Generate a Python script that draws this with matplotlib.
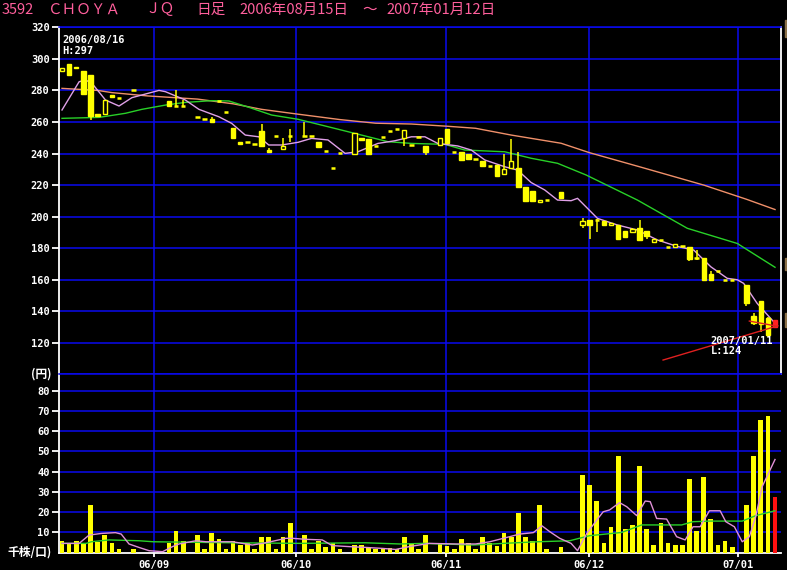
import numpy as np
import matplotlib
matplotlib.use("Agg")
import matplotlib.pyplot as plt
from matplotlib.patches import Rectangle

# ---------------- data ----------------
NA = None
opens = [292, 297, 295, 292, 290, 265, 265, 277, 275, NA,
         280, NA, NA, NA, NA, 273, 270, 270, NA, 263,
         262, 262, 273, 266, 256, 247, 247, 246, 254, 242,
         251, 243, 251, NA, 251, 251, 247, 241.5, 231, 240.5,
         NA, 240, 250, 249, 245, 250.5, 254, 255.5, 250, 245.5,
         250.5, 245, NA, 245.5, 255.5, 241, 241, 240, 236.3, 235,
         232, 232.5, 227, 231, 231, 219, 216, 209, 210.5, NA,
         215.5, NA, NA, 195, 198, 198, 197, 195, 195, 191,
         190.5, 193, 191, 183.7, 185, 181, 181, 181.4, 181, 174,
         173.5, 163.5, 165.5, 160, 160, NA, 156.5, 137, 146.5, 136,
         134.5]
highs = [294, 297, 295, 292, 290, 265, 274, 277, 275, NA,
         280, NA, NA, NA, NA, 273, 280, 274, NA, 263,
         262, 263, 273, 266, 256, 247, 247, 246, 259, 243.5,
         251, 250, 255.5, NA, 260, 251, 247, 241.5, 231, 240.5,
         NA, 253, 250, 249, 245, 250.5, 254, 255.5, 255, 245.5,
         250.5, 245, NA, 250, 255.5, 241, 241, 240, 236.3, 235,
         232, 232.5, 240, 249, 241, 219, 216, 210.5, 210.5, NA,
         215.5, NA, NA, 199, 198, 198.5, 197, 196, 195, 191,
         193, 198, 191, 185.6, 185, 181, 182.4, 181.4, 181, 179,
         173.5, 165.5, 165.5, 160, 160, NA, 156.5, 138.7, 146.5, 136.5,
         134.5]
lows = [292, 290, 294, 278, 261, 264, 264.5, 276, 275, NA,
        280, NA, NA, NA, NA, 270, 270, 270, NA, 263,
        262, 260, 273, 266, 250, 246, 247, 246, 244, 241,
        251, 243, 247, NA, 250.5, 251, 244, 241.5, 231, 240.5,
        NA, 240, 248.5, 239.5, 245, 250.5, 254, 255.5, 245, 245.5,
        250.5, 239, NA, 245.5, 246.5, 241, 236, 236.5, 236.3, 232,
        232, 225.5, 227, 231, 218.5, 210, 210, 209, 210.5, NA,
        212, NA, NA, 192.5, 186, 190.5, 195, 195, 186, 187,
        189.8, 185, 186, 183.7, 185, 181, 181, 181.4, 172, 172.5,
        160, 160, 165.5, 160, 160, NA, 143.5, 131, 127, 124,
        130]
closes = [294, 290, 294, 278, 264, 264, 274, 276, 275, NA,
          280, NA, NA, NA, NA, 270, 270, 270, NA, 263,
          262, 260, 273, 266, 250, 246, 247, 246, 245, 241,
          251, 245, 251, NA, 251, 251, 244, 241.5, 231, 240.5,
          NA, 253, 248.5, 239.5, 245, 250.5, 254, 255.5, 255, 245.5,
          250.5, 241, NA, 250, 246.5, 241, 236, 236.5, 236.3, 232,
          232, 225.5, 230, 235, 218.5, 210, 210, 210.5, 210.5, NA,
          212, NA, NA, 197, 194.5, 198, 195, 196, 186, 187,
          192, 185.5, 187.7, 185.6, 185, 181, 182.4, 181.4, 173, 174,
          160, 160, 165.5, 160, 160, NA, 145, 132.5, 131.7, 125,
          130]
volume = [5.8, 4.4, 5.6, 4.6, 23.5, 5.3, 8.7, 4.8, 1.8, 0,
          1.6, 0, 0, 0, 0, 4.6, 10.7, 5.8, 0, 8.7,
          1.8, 9.7, 6.6, 1.8, 5.6, 3.8, 4.8, 1.8, 7.7, 7.7,
          1.8, 7.7, 14.6, 0, 8.9, 1.8, 5.9, 3.0, 4.9, 1.8,
          0, 3.8, 3.8, 2.5, 1.8, 1.8, 2.1, 1.6, 7.7, 4.6,
          1.8, 8.7, 0, 4.6, 3.5, 1.8, 6.7, 4.8, 1.8, 7.7,
          4.8, 3.5, 9.7, 7.7, 19.6, 7.7, 5.8, 23.5, 1.8, 0,
          2.8, 0, 0, 38.3, 33.4, 25.5, 4.8, 12.7, 47.7, 11.5,
          13.7, 42.8, 11.7, 3.8, 14.6, 4.8, 3.8, 3.8, 36.3, 10.7,
          37.3, 16.6, 3.8, 5.8, 2.8, 0, 23.5, 47.7, 65.5, 67.4,
          27.5]

# moving-average curves, read as (day, value) vertices
ma_short_days = [0, 2.4, 3.3, 4.2, 6.1, 8, 9.8, 11.2, 13.6, 14.5, 17.3, 19.2, 22, 23.8,
                 25.7, 27.6, 29, 30.8, 33.1, 35, 37.3, 39.7, 41.5, 44.3, 46.7, 49, 50.9,
                 52.7, 55.5, 57.4, 59.3, 62.1, 63.9, 65.8, 67.7, 69.5, 71.4, 72.3, 75.1,
                 77.9, 80.7, 83.5, 86.3, 88.6, 91, 93.3, 94.7, 95.6, 97.5, 100]
ma_short_vals = [267.6, 285.5, 286.6, 284.5, 273.9, 270.1, 275.4, 277.1, 280, 279.2, 273.9,
                 268, 263.3, 259.1, 251.7, 250.6, 245.4, 245.4, 247.1, 249.6, 248.6, 240.1,
                 241.1, 246.4, 248.1, 250.6, 250.6, 246.4, 244.8, 242.2, 235.9, 231.6, 229.5,
                 221.6, 216.9, 210.5, 210.1, 211.6, 198.9, 194.7, 191.5, 185.2, 181.1, 178.8,
                 168.2, 160.9, 160, 157.7, 145, 132.4]
ma_mid_days = [0, 5.2, 8.9, 11.2, 14.5, 17.3, 21, 23.4, 26.2, 29.4, 33.1, 37.3, 42, 45.7,
               49, 53.7, 56.5, 62.1, 65.8, 69.5, 73.5, 80.7, 87.7, 94.7, 100]
ma_mid_vals = [262.3, 262.9, 265.5, 268, 270.7, 272.4, 273.5, 273.3, 269.3, 264.4, 261.7,
               257, 251.7, 247.5, 246.4, 245.8, 242.2, 241.1, 237, 233.8, 226.4, 210.5,
               192.6, 183, 167.9]
ma_long_days = [0, 5, 7, 12, 19, 24, 28, 33, 39, 44, 49, 54, 58, 63, 70, 74, 81, 90, 96, 100]
ma_long_vals = [281.3, 280, 278.6, 276.5, 274.5, 271.5, 268, 265, 261.5, 259.2, 258.7,
                257.3, 256, 251.7, 246.5, 240.5, 231.6, 220, 211, 204.5]

vol_ma_short_days = [0, 2.4, 3.8, 5.5, 7.5, 8.3, 9.4, 10.8, 12.2, 14.1, 15.5, 16.4, 18.8,
                     20.2, 23.9, 26.7, 28.6, 31.4, 32.3, 34.2, 36.5, 37.9, 40.3, 42.6, 45,
                     46.8, 48.7, 51.5, 55.2, 58, 60, 61.9, 64.2, 66.1, 67.3, 68.4, 69.8,
                     71.4, 72.3, 73.6, 75, 75.9, 76.8, 78.2, 79.2, 80.6, 81.8, 82.5, 83.4,
                     84.8, 86.2, 87.4, 88.5, 89.5, 90.8, 92.3, 93.1, 94.3, 95.4, 96.4,
                     97.3, 98.2, 100]
vol_ma_short_vals = [4.6, 4.6, 8.7, 9.5, 9.9, 9.2, 4.3, 2.6, 1.0, 0.5, 3.0, 4.3, 5.9,
                     5.4, 5.4, 3.8, 4.9, 7.1, 7.1, 6.6, 6.3, 3.5, 3.0, 2.6, 2.1,
                     1.6, 3.0, 4.6, 4.3, 4.3, 5.4, 7.1, 9.2, 9.9, 13.3, 10.4, 7.1,
                     4.6, 1.0, 9.5, 16.1, 20.2, 21.1, 24.7, 22.7, 18.3, 25.5, 25.2, 16.9,
                     16.6, 7.9, 6.3, 12.8, 12.8, 20.7, 20.7, 15.3, 12.8, 5.4, 7.9,
                     17.8, 32.6, 46.0]
vol_ma_long_days = [0, 3.4, 4.1, 6.6, 10.8, 12.8, 24, 33.4, 42.5, 47.4, 50.7, 55.2, 57.7,
                    61.9, 66.7, 71.2, 74, 78.5, 81.3, 86.9, 88.5, 90.8, 95.4, 97.3, 100]
vol_ma_long_vals = [4.6, 4.6, 5.4, 6.3, 5.9, 5.4, 4.9, 4.6, 4.9, 4.3, 4.6, 4.1, 3.8,
                    4.6, 5.4, 5.9, 8.4, 10.0, 13.7, 13.7, 15.3, 15.6, 15.6, 18.3, 20.7]

title_parts = ["3592", "ＣＨＯＹＡ", "ＪＱ", "日足", "2006年08月15日", "～", "2007年01月12日"]
month_days = [13, 33, 54, 74, 95]
month_labels = ["06/09", "06/10", "06/11", "06/12", "07/01"]
price_ticks = [120, 140, 160, 180, 200, 220, 240, 260, 280, 300, 320]
vol_ticks = [10, 20, 30, 40, 50, 60, 70, 80]

# ---------------- styling ----------------
BG = "black"
GRID = "#0a0af0"
YEL = "#ffff00"
PINK_T = "#ff5f9c"
W, H = 787, 570
MONO = "DejaVu Sans Mono"
JP = ["Noto Sans CJK JP", "DejaVu Sans"]

days = np.arange(len(closes))
o = np.array([np.nan if v is None else v for v in opens], float)
h = np.array([np.nan if v is None else v for v in highs], float)
l = np.array([np.nan if v is None else v for v in lows], float)
c = np.array([np.nan if v is None else v for v in closes], float)
vol = np.array(volume, float)

fig = plt.figure(figsize=(W / 100, H / 100), dpi=100, facecolor=BG)


def px_axes(x0, y0, x1, y1):
    return fig.add_axes([x0 / W, 1 - y1 / H, (x1 - x0) / W, (y1 - y0) / H], facecolor=BG)


ax_p = px_axes(59.3, 27.3, 781, 374.4)
ax_v = px_axes(59.3, 374.4, 781, 552.7)
xlim = (-0.38, 100.84)

for ax in (ax_p, ax_v):
    ax.set_xlim(*xlim)
    for d in month_days:
        ax.axvline(d - 0.15, color=GRID, lw=1.1, zorder=0)
    for s in ax.spines.values():
        s.set_color(GRID)
        s.set_linewidth(1.1)
    ax.spines["left"].set_color("white")
    ax.spines["left"].set_linewidth(1.3)
    ax.tick_params(axis="y", colors="white", length=5, width=1.3, pad=2,
                   labelsize=7.5)
    for lab in ax.get_yticklabels():
        lab.set_fontweight("bold")

# ----- price panel -----
ax_p.set_ylim(100, 320)
ax_p.set_yticks(price_ticks)
ax_p.set_yticklabels([str(t) for t in price_ticks], family=MONO, fontweight="bold",
                     color="white", fontsize=7.5)
for t in price_ticks:
    ax_p.axhline(t, color=GRID, lw=1.1, zorder=0)
ax_p.spines["right"].set_color("white")
ax_p.spines["right"].set_linewidth(1.3)
ax_p.set_xticks([])

ax_p.plot(ma_long_days, ma_long_vals, color="#f0906a", lw=1, zorder=2)
ax_p.plot(ma_mid_days, ma_mid_vals, color="#28d028", lw=1, zorder=2)
ax_p.plot(ma_short_days, ma_short_vals, color="#e0a0e8", lw=1, zorder=2)

bw = 0.62
up = c > o
flat = np.isclose(c, o)
last = len(c) - 1
for i in days:
    if np.isnan(c[i]):
        continue
    col = "#ff2020" if i == last else YEL
    ax_p.vlines(i, l[i], h[i], color=col, lw=1.1, zorder=3)
    if flat[i]:
        ax_p.hlines(o[i], i - bw / 2, i + bw / 2, color=col, lw=1.8, zorder=4)
    else:
        face = BG if up[i] else col
        ax_p.bar(i, abs(c[i] - o[i]), bottom=min(o[i], c[i]), width=bw,
                 facecolor=face, edgecolor=col, lw=1.0, zorder=4)

# high / low callouts
i_hi = int(np.nanargmax(h))
i_lo = int(np.nanargmin(l))
ax_p.text(0.0, 315, "2006/08/16\nH:%d" % h[i_hi], family=MONO, fontweight="bold",
          color="white", fontsize=7.5, va="top", ha="left", linespacing=1.05, zorder=6)
ax_p.plot([84.3, i_lo + 1.4], [109.1, 130.8], color="#e02020", lw=1, zorder=5)
ax_p.plot([96.4, i_lo + 1.0], [133.8, 130.8], color="#e02020", lw=1, zorder=5)
ax_p.text(91.0, 124.5, "2007/01/11\nL:%d" % l[i_lo], family=MONO, fontweight="bold",
          color="white", fontsize=7.5, va="top", ha="left", linespacing=1.05, zorder=6)

# ----- volume panel -----
ax_v.set_ylim(0, 88)
ax_v.set_yticks(vol_ticks)
ax_v.set_yticklabels([str(t) for t in vol_ticks], family=MONO, fontweight="bold",
                     color="white", fontsize=7.5)
for t in vol_ticks:
    ax_v.axhline(t, color=GRID, lw=1.1, zorder=0)
ax_v.spines["bottom"].set_color("white")
ax_v.spines["bottom"].set_linewidth(1.3)
ax_v.spines["right"].set_visible(False)
vcols = [YEL] * len(vol)
vcols[-1] = "#ff1010"
ax_v.bar(days, vol, width=0.66, color=vcols, zorder=3)
ax_v.plot(vol_ma_long_days, vol_ma_long_vals, color="#28d028", lw=1, zorder=4)
ax_v.plot(vol_ma_short_days, vol_ma_short_vals, color="#e090d8", lw=1, zorder=4)
ax_v.set_xticks([d - 0.15 for d in month_days])
ax_v.set_xticklabels(month_labels, family=MONO, fontweight="bold", fontsize=7.5)
ax_v.tick_params(axis="x", colors="white", length=3, width=1.3, pad=2)

# ----- labels outside the axes -----
fig.text(51.5 / W, 1 - 374.5 / H, "(円)", family=JP, fontweight="bold", color="white",
         fontsize=8.5, ha="right", va="center")
fig.text(51.5 / W, 1 - 552.5 / H, "千株/口)", family=JP, fontweight="bold", color="white",
         fontsize=8.5, ha="right", va="center")

title_x = [2, 47, 145, 196, 239, 362, 386]
for tx, part in zip(title_x, title_parts):
    fig.text(tx / W, 1 - 9.5 / H, part, family=JP, color=PINK_T, fontsize=10.5,
             ha="left", va="center")

# small scroll markers on the right edge
for y0, y1 in [(20, 37), (258, 270), (313, 327)]:
    fig.patches.append(Rectangle((784.5 / W, 1 - y1 / H), 3 / W, (y1 - y0) / H,
                                 transform=fig.transFigure, color="#8a7048"))

fig.savefig("out.png", dpi=100, facecolor=BG)
